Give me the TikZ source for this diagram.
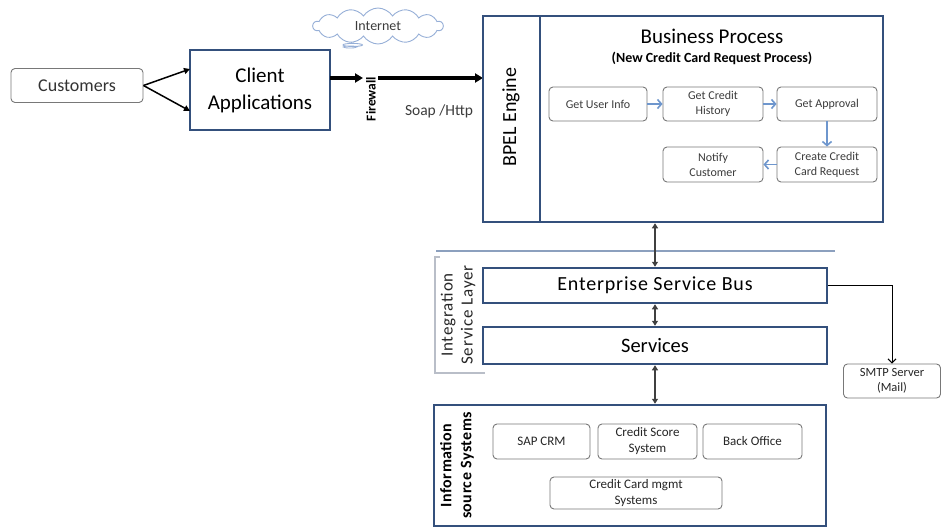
\documentclass[tikz,border=0pt]{standalone}
\usepackage{fontspec}
\setmainfont{Carlito}
\usetikzlibrary{arrows.meta,shapes.symbols,shapes.callouts}
\definecolor{frameblue}{RGB}{52,80,124}
\definecolor{flowblue}{RGB}{110,150,205}
\definecolor{boxgray}{RGB}{120,120,120}
\definecolor{txtgray}{RGB}{60,60,60}
\definecolor{sepblue}{RGB}{140,160,190}
\definecolor{cloudblue}{RGB}{150,175,215}
\definecolor{brgray}{RGB}{185,190,200}
\newcommand{\fsz}[2]{\fontsize{#1}{#2}\selectfont}
\tikzset{
  bluebox/.style={draw=frameblue, line width=2.5pt, fill=white, inner sep=0pt, align=center},
  rbox/.style={draw=boxgray, line width=0.9pt, rounded corners=4pt, fill=white, inner sep=0pt, align=center, text=txtgray},
  thickarrow/.style={line width=3.2pt, -{Triangle[length=8pt,width=9pt]}},
  custarrow/.style={line width=1.5pt, -{Triangle[length=6pt,width=6pt]}},
  dblarrow/.style={draw=black!75, line width=2pt, {Triangle[length=5pt,width=6pt]}-{Triangle[length=5pt,width=6pt]}},
  flowarrow/.style={draw=flowblue, line width=1.6pt, -{Straight Barb[length=4pt,width=9pt]}},
  mailarrow/.style={line width=1pt, -{Straight Barb[length=4pt,width=8pt]}},
  lbl/.style={inner sep=0pt, align=center}
}
\begin{document}
\begin{tikzpicture}[x=1pt,y=-1pt]
\useasboundingbox (0,0) rectangle (941,527);

% Internet cloud
\node[cloud callout, draw=cloudblue, line width=0.9pt, fill=white, cloud puffs=14, cloud puff arc=115, aspect=3.6,
      minimum width=130pt, minimum height=36pt, inner sep=0pt, text=txtgray, font=\fsz{14pt}{16pt},
      callout absolute pointer={(350,47)}] (cloud) at (378,26) {Internet};

% Left part
\node[rbox, text=black!80, minimum width=132pt, minimum height=34pt, font=\fsz{18pt}{21pt}] (cust) at (77,85.5) {Customers};
\node[bluebox, minimum width=140pt, minimum height=80pt, font=\fsz{21pt}{27pt}] (client) at (260,90) {Client\\Applications};
\coordinate (cin1) at (190,69);
\coordinate (cin2) at (190,111);
\draw[custarrow] (cust.east) -- (cin1);
\draw[custarrow] (cust.east) -- (cin2);

\node[lbl, rotate=90, font=\bfseries\fsz{13.5pt}{15pt}] (fw) at (371,99) {Firewall};
\coordinate (cout) at (330,78);
\coordinate (fwl) at (363,78);
\coordinate (fwr) at (378,78);
\coordinate (bin) at (483,78);
\draw[thickarrow] (cout) -- (fwl);
\draw[thickarrow] (fwr) -- (bin);
\node[lbl, text=txtgray, font=\fsz{15.5pt}{17pt}] (soap) at (439,111) {Soap /Http};

% BPEL engine
\node[bluebox, minimum width=400pt, minimum height=206pt] (bpel) at (683,119) {};
\draw[frameblue, line width=2.5pt] (540,16) -- (540,222);
\node[lbl, rotate=90, font=\fsz{20pt}{24pt}] (bpellbl) at (511,117) {BPEL Engine};
\node[lbl, font=\fsz{21pt}{24pt}] (bptitle) at (712,36) {Business Process};
\node[lbl, font=\bfseries\fsz{14pt}{15pt}] (bpsub) at (712,58) {(New Credit Card Request Process)};

\begin{scope}[every node/.style={rbox, minimum height=34pt, font=\fsz{12pt}{15pt}}]
\node[minimum width=98pt] (gui) at (598,104) {Get User Info};
\node[minimum width=100pt] (gch) at (713,104) {Get Credit\\History};
\node[minimum width=100pt] (gap) at (827,104) {Get Approval};
\node[minimum width=100pt, minimum height=35pt] (nc) at (713,164.5) {Notify\\Customer};
\node[minimum width=100pt, minimum height=35pt] (ccr) at (827,164.5) {Create Credit\\Card Request};
\end{scope}
\draw[flowarrow] (gui.east) -- (gch.west);
\draw[flowarrow] (gch.east) -- (gap.west);
\draw[flowarrow] (gap.south) -- (ccr.north);
\draw[flowarrow] (ccr.west) -- (nc.east);

% Integration layer
\draw[sepblue, line width=1.5pt] (436,251) -- (835,251);
\draw[brgray, line width=1.2pt] (440,257) -- (435,257) -- (435,373) -- (485,373);
\node[lbl, rotate=90, text=black!85, font=\addfontfeature{LetterSpace=5}\fsz{17pt}{20pt}] (intlbl) at (458,315) {Integration\\Service Layer};

\node[bluebox, minimum width=344pt, minimum height=35pt, font=\addfontfeature{LetterSpace=4}\fsz{20pt}{24pt}] (esb) at (655,285.5) {Enterprise Service Bus};
\node[bluebox, minimum width=344pt, minimum height=37pt, font=\fsz{20.5pt}{24pt}] (svc) at (655,345.5) {Services};

\draw[dblarrow] (bpel.south -| esb.north) -- (esb.north);
\draw[dblarrow] (esb.south) -- (svc.north);

% SMTP
\node[rbox, text=black!85, minimum width=97pt, minimum height=34pt, font=\fsz{12.5pt}{15pt}] (smtp) at (892,381) {SMTP Server\\(Mail)};
\draw[mailarrow] (esb.east) -| (smtp.north);

% Information source systems
\node[bluebox, minimum width=392pt, minimum height=121pt] (info) at (630,465.5) {};
\node[lbl, rotate=90, font=\bfseries\addfontfeature{LetterSpace=3}\fsz{16pt}{20pt}] (infolbl) at (457,465.5) {Information\\source Systems};
\draw[dblarrow] (svc.south) -- (info.north -| svc.south);

\begin{scope}[every node/.style={rbox, text=black!85, minimum height=35pt, font=\fsz{13pt}{16pt}}]
\node[minimum width=97pt] (sap) at (541.5,441.5) {SAP CRM};
\node[minimum width=99pt] (css) at (647.5,441.5) {Credit Score\\System};
\node[minimum width=99pt] (bo) at (752.5,441.5) {Back Office};
\node[minimum width=172pt, minimum height=32pt] (ccm) at (636,493) {Credit Card mgmt\\Systems};
\end{scope}
\end{tikzpicture}
\end{document}
